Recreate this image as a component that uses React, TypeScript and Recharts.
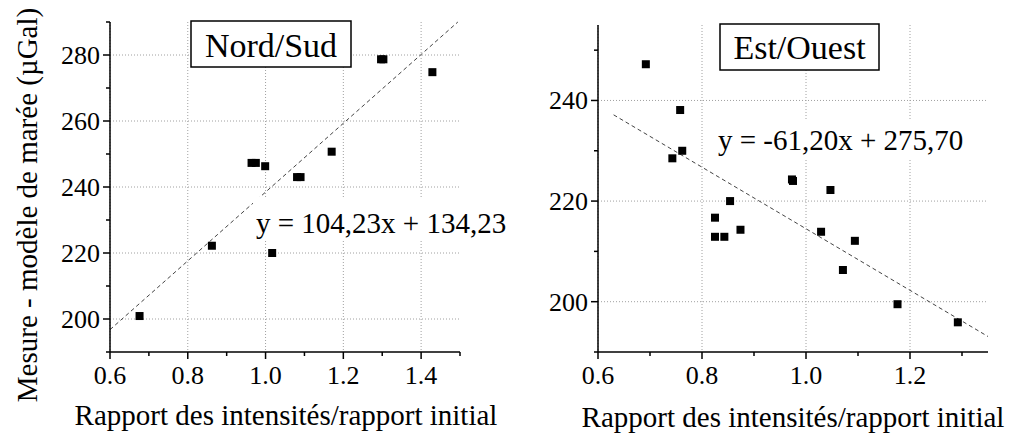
import React from "react";
import {
  CartesianGrid,
  ReferenceLine,
  Scatter,
  ScatterChart,
  XAxis,
  YAxis,
} from "recharts";

// Nord/Sud measurements
const nsX = [0.676, 0.862, 0.964, 0.975, 0.999, 1.017, 1.081, 1.09, 1.17, 1.297, 1.303, 1.429];
const nsY = [200.9, 222.2, 247.3, 247.3, 246.3, 220.0, 243.0, 243.0, 250.7, 278.7, 278.7, 274.8];
const nsFit = { slope: 104.23, intercept: 134.23, from: 0.6 };

// Est/Ouest measurements
const eoX = [0.692, 0.758, 0.762, 0.743, 0.973, 0.975, 1.047, 0.854, 0.825, 0.825, 0.843, 0.874, 1.029, 1.094, 1.071, 1.176, 1.292];
const eoY = [247.2, 238.1, 230.0, 228.5, 224.3, 224.0, 222.2, 220.0, 216.7, 212.9, 212.9, 214.3, 213.9, 212.1, 206.3, 199.5, 195.9];
const eoFit = { slope: -61.2, intercept: 275.7, from: 0.63 };

const nsXMajor = [0.6, 0.8, 1.0, 1.2, 1.4];
const nsXMinor = [0.7, 0.9, 1.1, 1.3, 1.5];
const nsYMajor = [200, 220, 240, 260, 280];
const nsYMinor = [190, 210, 230, 250, 270, 290];

const eoXMajor = [0.6, 0.8, 1.0, 1.2];
const eoXMinor = [0.7, 0.9, 1.1, 1.3];
const eoYMajor = [200, 220, 240];
const eoYMinor = [190, 210, 230, 250];

const FONT = "'Liberation Serif', 'Times New Roman', serif";
const GRID = "#a0a0a0";

const isMajor = (majors: number[], v: number) => majors.some((m) => Math.abs(m - v) < 1e-9);
const allTicks = (a: number[], b: number[]) => [...a, ...b].sort((p, q) => p - q);
const toPoints = (xs: number[], ys: number[]) => xs.map((x, i) => ({ x, y: ys[i] }));

function XTick(props: any) {
  const { x, y, payload, majors } = props;
  const major = isMajor(majors, payload.value);
  return (
    <g>
      <line x1={x} x2={x} y1={y} y2={y + (major ? 7 : 4)} stroke="#000" strokeWidth={1.5} />
      {major && (
        <text x={x} y={y + 32} textAnchor="middle" fontSize={26} fontFamily={FONT} fill="#000">
          {Number(payload.value).toFixed(1)}
        </text>
      )}
    </g>
  );
}

function YTick(props: any) {
  const { x, y, payload, majors } = props;
  const major = isMajor(majors, payload.value);
  return (
    <g>
      <line x1={x} x2={x - (major ? 7 : 4)} y1={y} y2={y} stroke="#000" strokeWidth={1.5} />
      {major && (
        <text x={x - 10} y={y + 9} textAnchor="end" fontSize={26} fontFamily={FONT} fill="#000">
          {payload.value}
        </text>
      )}
    </g>
  );
}

const square = (p: any) => <rect x={p.cx - 4} y={p.cy - 4} width={8} height={8} fill="#000" />;

type PanelProps = {
  points: { x: number; y: number }[];
  fit: { slope: number; intercept: number; from: number };
  xDomain: [number, number];
  yDomain: [number, number];
  xMajor: number[];
  xMinor: number[];
  yMajor: number[];
  yMinor: number[];
  width: number;
  margin: { top: number; right: number; bottom: number; left: number };
  yAxisWidth: number;
};

function Panel(p: PanelProps) {
  const f = (x: number) => p.fit.slope * x + p.fit.intercept;
  let xEnd = p.xDomain[1];
  if (f(xEnd) > p.yDomain[1]) xEnd = (p.yDomain[1] - p.fit.intercept) / p.fit.slope;
  const segment = [
    { x: p.fit.from, y: f(p.fit.from) },
    { x: xEnd, y: f(xEnd) },
  ];
  return (
    <ScatterChart width={p.width} height={445} margin={p.margin}>
      <CartesianGrid
        stroke={GRID}
        strokeDasharray="1 2"
        horizontalValues={p.yMajor}
        verticalValues={p.xMajor}
      />
      <XAxis
        type="number"
        dataKey="x"
        domain={p.xDomain}
        allowDataOverflow
        ticks={allTicks(p.xMajor, p.xMinor)}
        interval={0}
        height={445 - 352 - p.margin.bottom}
        tickSize={0}
        tickMargin={0}
        tickLine={false}
        axisLine={{ stroke: "#000", strokeWidth: 1.5 }}
        tick={<XTick majors={p.xMajor} />}
      />
      <YAxis
        type="number"
        dataKey="y"
        domain={p.yDomain}
        allowDataOverflow
        ticks={allTicks(p.yMajor, p.yMinor)}
        interval={0}
        width={p.yAxisWidth}
        tickSize={0}
        tickMargin={0}
        tickLine={false}
        axisLine={{ stroke: "#000", strokeWidth: 1.5 }}
        tick={<YTick majors={p.yMajor} />}
      />
      <ReferenceLine segment={segment} stroke="#444" strokeWidth={1} strokeDasharray="4 3" />
      <Scatter data={p.points} shape={square} isAnimationActive={false} />
    </ScatterChart>
  );
}

export default function App() {
  const xTitle = "Rapport des intensités/rapport initial";
  return (
    <div style={{ position: "absolute", left: 0, top: 0, width: 1018, height: 445, background: "#fff" }}>
      <div style={{ position: "absolute", left: 0, top: 0 }}>
        <Panel
          points={toPoints(nsX, nsY)}
          fit={nsFit}
          xDomain={[0.6, 1.5]}
          yDomain={[190, 290]}
          xMajor={nsXMajor}
          xMinor={nsXMinor}
          yMajor={nsYMajor}
          yMinor={nsYMinor}
          width={470}
          margin={{ top: 22, right: 10, bottom: 0, left: 0 }}
          yAxisWidth={110}
        />
      </div>
      <div style={{ position: "absolute", left: 500, top: 0 }}>
        <Panel
          points={toPoints(eoX, eoY)}
          fit={eoFit}
          xDomain={[0.6, 1.35]}
          yDomain={[190, 255]}
          xMajor={eoXMajor}
          xMinor={eoXMinor}
          yMajor={eoYMajor}
          yMinor={eoYMinor}
          width={518}
          margin={{ top: 25, right: 30, bottom: 0, left: 0 }}
          yAxisWidth={98}
        />
      </div>
      <svg
        width={1018}
        height={445}
        style={{ position: "absolute", left: 0, top: 0, pointerEvents: "none" }}
        fontFamily={FONT}
      >
        {/* titles */}
        <rect x={191} y={21} width={160} height={46} fill="#fff" stroke="#000" strokeWidth={1.5} />
        <text x={271} y={57} textAnchor="middle" fontSize={34}>Nord/Sud</text>
        <rect x={720} y={24} width={159} height={46} fill="#fff" stroke="#000" strokeWidth={1.5} />
        <text x={799.5} y={59} textAnchor="middle" fontSize={34}>Est/Ouest</text>

        {/* fit equations */}
        <rect x={253} y={197} width={258} height={42} fill="#fff" />
        <text x={256} y={233} fontSize={29}>y = 104,23x + 134,23</text>
        <rect x={715} y={120} width={255} height={38} fill="#fff" />
        <text x={718} y={150} fontSize={29}>y = -61,20x + 275,70</text>

        {/* axis titles */}
        <text x={286} y={425} textAnchor="middle" fontSize={29}>{xTitle}</text>
        <text x={793} y={427} textAnchor="middle" fontSize={29}>{xTitle}</text>
        <text x={37} y={205} textAnchor="middle" fontSize={29} transform="rotate(-90 37 205)">
          Mesure - modèle de marée (µGal)
        </text>
      </svg>
    </div>
  );
}
